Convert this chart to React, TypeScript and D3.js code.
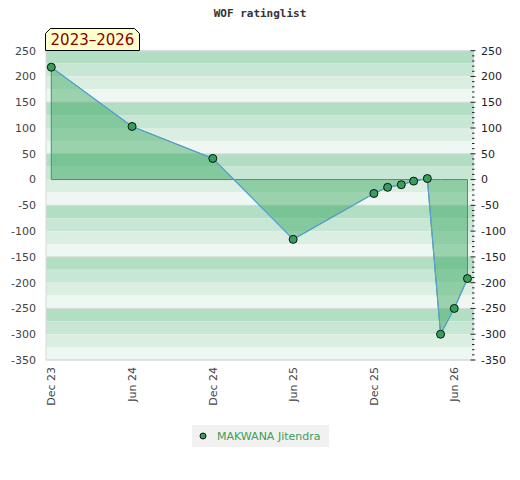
import * as d3 from "d3";

// ratinglist values, one point per month / half-year
const dates = [
  "2023-12-01",
  "2024-06-01",
  "2024-12-01",
  "2025-06-01",
  "2025-12-01",
  "2026-01-01",
  "2026-02-01",
  "2026-03-01",
  "2026-04-01",
  "2026-05-01",
  "2026-06-01",
  "2026-07-01",
];
const values = [218, 103, 41, -116, -27, -15, -10, -3, 2, -300, -250, -192];
const tickDates = [
  "2023-12-01",
  "2024-06-01",
  "2024-12-01",
  "2025-06-01",
  "2025-12-01",
  "2026-06-01",
];
const yTicks = [250, 200, 150, 100, 50, 0, -50, -100, -150, -200, -250, -300, -350];
const playerName = "MAKWANA Jitendra";
const periodLabel = "2023\u20132026";
const title = "WOF ratinglist";

const W = 520;
const H = 480;
const left = 46;
const right = 475;
const top = 50.7;
const bottom = 360;

const bandColors = ["#b2dec4", "#c7e6d4", "#dbeee2", "#eef7f1"];

export default function App() {
  const parse = d3.timeParse("%Y-%m-%d");
  const pts = dates.map((d, i) => ({ date: parse(d) as Date, value: values[i] }));

  const x = d3
    .scaleTime()
    .domain([parse("2023-11-19") as Date, parse("2026-07-18") as Date])
    .range([left, right]);
  const y = d3.scaleLinear().domain([-350, 250]).range([bottom, top]);

  const fmt = d3.timeFormat("%b %y");

  // striped background, 25-unit bands
  const bands = d3.range(250, -350, -25).map((v, i) => ({
    v,
    color: bandColors[i % 4],
  }));
  const gridLines = d3.range(250, -351, -100);
  const minor = d3.range(-350, 251, 10);

  const area = d3
    .area<{ date: Date; value: number }>()
    .x((d) => x(d.date))
    .y0(y(0))
    .y1((d) => y(d.value));
  const line = d3
    .line<{ date: Date; value: number }>()
    .x((d) => x(d.date))
    .y((d) => y(d.value));

  const boxX = 45.5;
  const boxY = 28.5;
  const boxW = 94;
  const boxH = 22;
  const c = 5;
  const boxPath = `M${boxX},${boxY + boxH} L${boxX},${boxY + c} L${boxX + c},${boxY} L${
    boxX + boxW - c
  },${boxY} L${boxX + boxW},${boxY + c} L${boxX + boxW},${boxY + boxH} Z`;

  return (
    <svg
      width={W}
      height={H}
      style={{ position: "absolute", left: 0, top: 0, background: "#fff" }}
      fontFamily="DejaVu Sans, sans-serif"
    >
      <text
        x={260}
        y={17}
        textAnchor="middle"
        fontFamily="DejaVu Sans Mono, monospace"
        fontWeight="bold"
        fontSize={11}
        fill="#333"
      >
        {title}
      </text>

      {bands.map((b) => (
        <rect
          key={b.v}
          x={left}
          y={y(b.v)}
          width={right - 1 - left}
          height={y(b.v - 25) - y(b.v)}
          fill={b.color}
        />
      ))}
      {gridLines.map((v) => (
        <line key={v} x1={left} x2={right - 1} y1={y(v)} y2={y(v)} stroke="#d9d9d9" />
      ))}
      <line x1={left} x2={right - 1} y1={y(-350)} y2={y(-350)} stroke="#d9d9d9" />
      <line x1={left} x2={left} y1={top} y2={bottom} stroke="#d9d9d9" />

      <path d={area(pts) ?? ""} fill="rgba(50,165,90,0.45)" stroke="#3c9a5c" strokeWidth={1} />
      <path d={line(pts) ?? ""} fill="none" stroke="#5a9fd8" strokeWidth={1.2} />
      {pts.map((p, i) => (
        <circle
          key={i}
          cx={x(p.date)}
          cy={y(p.value)}
          r={4}
          fill="#35a05c"
          stroke="#111"
          strokeWidth={1}
        />
      ))}

      {/* left axis labels */}
      {yTicks.map((t) => (
        <text key={t} x={36} y={y(t)} dy="0.35em" textAnchor="end" fontSize={11} fill="#444">
          {t}
        </text>
      ))}
      {/* right axis */}
      {minor.map((t) => (
        <line
          key={t}
          x1={t % 50 === 0 ? 470.5 : 472}
          x2={t % 50 === 0 ? 475.5 : 474.5}
          y1={y(t)}
          y2={y(t)}
          stroke="#222"
          strokeWidth={1}
        />
      ))}
      {yTicks.map((t) => (
        <text key={t} x={481} y={y(t)} dy="0.35em" textAnchor="start" fontSize={11} fill="#222">
          {t}
        </text>
      ))}

      {/* x axis labels */}
      {tickDates.map((d) => {
        const px = x(parse(d) as Date);
        return (
          <text
            key={d}
            transform={`translate(${px},367) rotate(-90)`}
            dy="0.35em"
            textAnchor="end"
            fontSize={11}
            fill="#444"
          >
            {fmt(parse(d) as Date)}
          </text>
        );
      })}

      {/* period label */}
      <path d={boxPath} fill="#ffffcc" stroke="#000" strokeWidth={1} />
      <text x={boxX + boxW / 2} y={boxY + 16.5} textAnchor="middle" fontSize={15} fill="#8b0000">
        {periodLabel}
      </text>

      {/* legend */}
      <rect x={192} y={425} width={137} height={22} fill="#f1f1f1" />
      <circle cx={203} cy={436} r={3} fill="#35a05c" stroke="#111" strokeWidth={1} />
      <text x={217} y={436} dy="0.35em" fontSize={11} fill="#3a9f58">
        {playerName}
      </text>
    </svg>
  );
}
